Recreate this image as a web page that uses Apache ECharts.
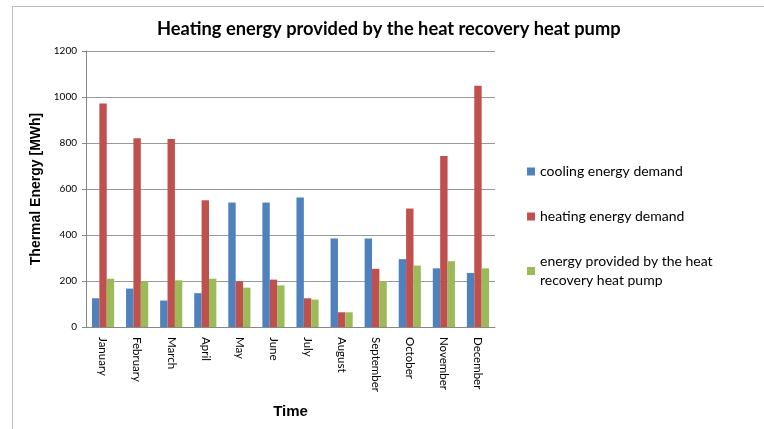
<!DOCTYPE html>
<html><head><meta charset="utf-8">
<script src="https://cdn.jsdelivr.net/npm/echarts@6/dist/echarts.min.js"></script>
<style>html,body{margin:0;padding:0;background:#fff}#c{width:764px;height:429px}</style>
</head><body><div id="c"></div>
<script>
const months = ['January','February','March','April','May','June','July','August','September','October','November','December'];
const cooling = [125,167,115,147,541,541,563,385,385,295,255,235];
const heating = [972,821,817,551,199,206,125,64,253,515,743,1049];
const provided = [210,199,203,210,171,181,119,64,200,267,286,255];
const seriesNames = ['cooling energy demand','heating energy demand','energy provided by the heat recovery heat pump'];
const yTicks = {min:0,max:1200,interval:200};

const chart = echarts.init(document.getElementById('c'), null, {renderer:'canvas'});
const colors = ['#4F81BD','#C0504D','#9BBB59'];
const font = 'Lato, "Open Sans", sans-serif';
chart.setOption({
  animation:false,
  backgroundColor:'#fff',
  title:{text:'Heating energy provided by the heat recovery heat pump',left:152,top:15,
    textStyle:{fontFamily:font,fontWeight:'bold',fontSize:18.3,color:'#000'}},
  graphic:[{type:'polyline',shape:{points:[[12.5,429],[12.5,6.5],[764,6.5]]},style:{stroke:'#bdbdbd',lineWidth:1,fill:null}}],
  legend:{orient:'vertical',left:527,top:162,padding:0,itemWidth:8,itemHeight:8,itemGap:26,icon:'rect',
    formatter:function(n){return n===seriesNames[2]?'energy provided by the heat\nrecovery heat pump':n;},
    textStyle:{fontFamily:font,fontSize:14,color:'#000',lineHeight:19}},
  grid:{left:86,right:269,top:51,bottom:102},
  xAxis:{type:'category',data:months,
    axisLine:{lineStyle:{color:'#888'}},axisTick:{show:false},
    axisLabel:{rotate:-90,fontFamily:font,fontSize:11.5,color:'#000',margin:10,interval:0},
    name:'Time',nameLocation:'middle',nameGap:77,
    nameTextStyle:{fontFamily:'"Liberation Sans", Arial, sans-serif',fontWeight:'bold',fontSize:15,color:'#000'}},
  yAxis:{type:'value',min:yTicks.min,max:yTicks.max,interval:yTicks.interval,
    axisLine:{show:true,lineStyle:{color:'#888'}},axisTick:{show:true,length:4,lineStyle:{color:'#888'}},
    splitLine:{lineStyle:{color:'#999'}},
    axisLabel:{fontFamily:font,fontSize:10,color:'#000',margin:9,formatter:function(v){return String(v);}},
    name:'Thermal Energy [MWh]',nameLocation:'middle',nameGap:43,
    nameTextStyle:{fontFamily:'"Liberation Sans", Arial, sans-serif',fontWeight:'bold',fontSize:14,color:'#000'}},
  series:[
    {name:seriesNames[0],type:'bar',data:cooling,itemStyle:{color:colors[0]},barGap:'0%',barCategoryGap:'35%'},
    {name:seriesNames[1],type:'bar',data:heating,itemStyle:{color:colors[1]},barGap:'0%',barCategoryGap:'35%'},
    {name:seriesNames[2],type:'bar',data:provided,itemStyle:{color:colors[2]},barGap:'0%',barCategoryGap:'35%'}
  ]
});
</script></body></html>
